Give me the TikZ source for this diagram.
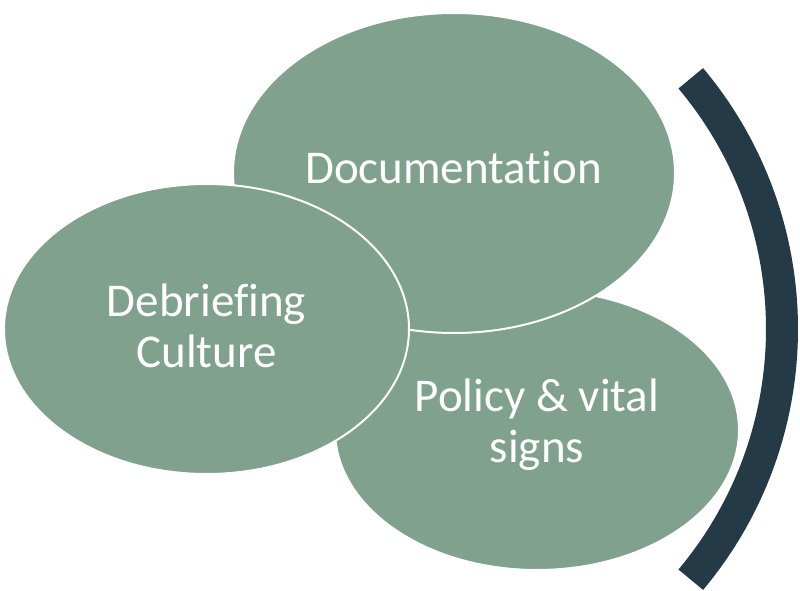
\documentclass[tikz,border=0pt]{standalone}
\usepackage{fontspec}
\setmainfont{Carlito}[Ligatures=NoCommon]
\usetikzlibrary{calc}
\definecolor{sage}{RGB}{127,161,141}
\definecolor{slate}{RGB}{36,58,71}
\begin{document}
\begin{tikzpicture}[x=1pt,y=-1pt,
  bubble/.style={fill=sage,draw=white,line width=2pt},
  label/.style={text=white,inner sep=0pt,align=center,font=\fontsize{47}{51}\selectfont}]
  \useasboundingbox (0,0) rectangle (800,591);
  % overlapping ellipses, back to front
  \path[bubble] (537,430) ellipse [x radius=202, y radius=140];
  \path[bubble] (454,173) ellipse [x radius=221, y radius=160];
  \path[bubble] (206.5,329) ellipse [x radius=202.5, y radius=145];
  \node[label,anchor=base] (doc) at (453.5,183) {Documentation};
  \node[label] (deb) at (206.5,326) {Debriefing\\Culture};
  \node[label] (pol) at (537,425) {Policy \& vital\\signs};
  % bracket arc on the right
  \coordinate (arcc) at (392,329);
  \draw[slate,line width=32pt] ($(arcc)+(40:390)$) arc[start angle=40,end angle=-40,radius=390];
\end{tikzpicture}
\end{document}
